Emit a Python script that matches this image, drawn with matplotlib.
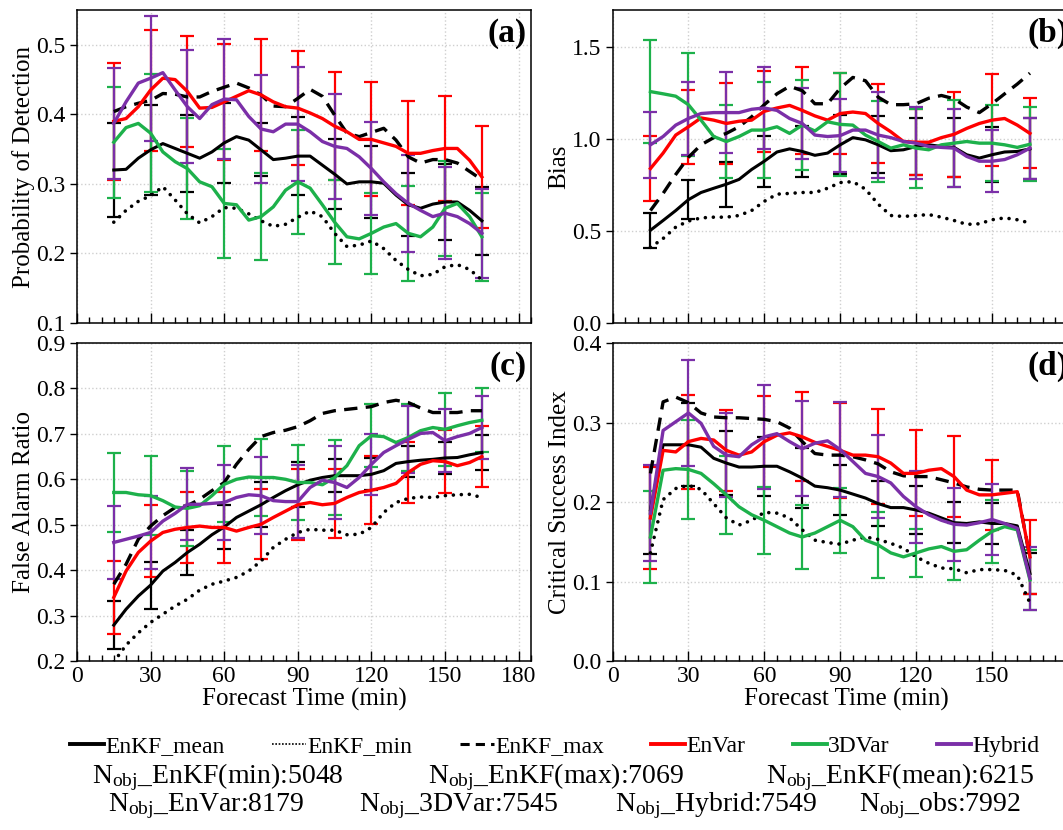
" verification scores vs forecast time, four panels "
import matplotlib
matplotlib.use("Agg")
import matplotlib.pyplot as plt
from matplotlib.ticker import MultipleLocator, FixedLocator
from matplotlib.lines import Line2D

plt.rcParams.update({'font.family': 'Liberation Serif',
                     'mathtext.fontset': 'custom',
                     'mathtext.rm': 'Liberation Serif',
                     'font.size': 17})

# forecast times of the curves and of the error bars (min)
time = list(range(15, 170, 5))
time_err = list(range(15, 170, 15))

# (a) probability of detection
mean_a = [0.320, 0.321, 0.337, 0.349, 0.358, 0.351, 0.344, 0.337, 0.346, 0.359, 0.368, 0.363, 0.349, 0.335, 0.337, 0.340,
          0.340, 0.327, 0.314, 0.300, 0.303, 0.303, 0.301, 0.284, 0.270, 0.265, 0.271, 0.274, 0.274, 0.262, 0.247]
min_a = [0.245, 0.262, 0.275, 0.283, 0.296, 0.277, 0.257, 0.244, 0.253, 0.266, 0.265, 0.257, 0.247, 0.239, 0.242, 0.252,
         0.261, 0.253, 0.229, 0.210, 0.212, 0.218, 0.207, 0.190, 0.177, 0.168, 0.170, 0.181, 0.184, 0.177, 0.162]
max_a = [0.404, 0.411, 0.416, 0.420, 0.430, 0.429, 0.425, 0.425, 0.433, 0.439, 0.445, 0.438, 0.428, 0.412, 0.411, 0.423,
         0.436, 0.426, 0.399, 0.373, 0.368, 0.374, 0.380, 0.363, 0.339, 0.330, 0.335, 0.335, 0.330, 0.318, 0.306]
envar_a = [0.390, 0.394, 0.411, 0.435, 0.452, 0.450, 0.433, 0.409, 0.410, 0.418, 0.426, 0.434, 0.428, 0.418, 0.411, 0.409,
           0.402, 0.394, 0.383, 0.375, 0.364, 0.364, 0.359, 0.354, 0.344, 0.344, 0.348, 0.351, 0.351, 0.334, 0.310]
var3d_a = [0.360, 0.381, 0.387, 0.373, 0.346, 0.332, 0.322, 0.303, 0.296, 0.272, 0.270, 0.248, 0.253, 0.267, 0.291, 0.303,
           0.294, 0.270, 0.245, 0.224, 0.221, 0.229, 0.238, 0.243, 0.229, 0.224, 0.238, 0.265, 0.272, 0.253, 0.224]
hybrid_a = [0.387, 0.418, 0.445, 0.452, 0.460, 0.435, 0.411, 0.394, 0.414, 0.422, 0.421, 0.397, 0.379, 0.375, 0.386, 0.386,
            0.375, 0.361, 0.354, 0.351, 0.339, 0.322, 0.303, 0.286, 0.272, 0.262, 0.253, 0.258, 0.253, 0.243, 0.229]
std_mean_a = [0.068, 0.065, 0.055, 0.057, 0.038, 0.056, 0.050, 0.052, 0.045, 0.055, 0.049]
std_envar_a = [0.084, 0.087, 0.080, 0.083, 0.081, 0.082, 0.078, 0.082, 0.075, 0.076, 0.073]
std_var3d_a = [0.080, 0.085, 0.073, 0.078, 0.062, 0.075, 0.060, 0.058, 0.068, 0.068, 0.063]
std_hybrid_a = [0.080, 0.090, 0.081, 0.086, 0.077, 0.082, 0.075, 0.067, 0.070, 0.066, 0.064]

# (b) bias
mean_b = [0.504, 0.557, 0.611, 0.670, 0.709, 0.732, 0.754, 0.780, 0.834, 0.879, 0.929, 0.946, 0.932, 0.911, 0.923, 0.968,
          1.007, 0.995, 0.968, 0.936, 0.941, 0.959, 0.968, 0.959, 0.954, 0.914, 0.896, 0.914, 0.929, 0.932, 0.946]
min_b = [0.411, 0.459, 0.521, 0.554, 0.571, 0.575, 0.575, 0.584, 0.611, 0.661, 0.700, 0.704, 0.709, 0.709, 0.732, 0.763,
         0.768, 0.727, 0.646, 0.584, 0.579, 0.584, 0.589, 0.575, 0.557, 0.536, 0.539, 0.561, 0.571, 0.561, 0.543]
max_b = [0.611, 0.704, 0.807, 0.900, 0.968, 1.007, 1.030, 1.066, 1.120, 1.186, 1.245, 1.286, 1.262, 1.191, 1.191, 1.275,
         1.334, 1.316, 1.227, 1.186, 1.186, 1.191, 1.221, 1.236, 1.218, 1.173, 1.143, 1.191, 1.245, 1.298, 1.357]
envar_b = [0.839, 0.923, 1.021, 1.066, 1.114, 1.102, 1.084, 1.096, 1.102, 1.150, 1.168, 1.182, 1.155, 1.125, 1.102, 1.138,
           1.146, 1.138, 1.084, 1.039, 0.986, 0.982, 0.982, 1.007, 1.025, 1.057, 1.084, 1.102, 1.111, 1.075, 1.030]
var3d_b = [1.257, 1.245, 1.232, 1.186, 1.102, 1.013, 0.986, 1.013, 1.048, 1.048, 1.066, 1.030, 1.075, 1.043, 1.093, 1.079,
           1.075, 1.021, 0.986, 0.950, 0.968, 0.950, 0.941, 0.968, 0.977, 0.986, 0.977, 0.977, 0.968, 0.954, 0.971]
hybrid_b = [0.968, 1.013, 1.075, 1.111, 1.138, 1.143, 1.143, 1.143, 1.161, 1.168, 1.155, 1.111, 1.084, 1.021, 1.013, 1.018,
            1.048, 1.048, 1.021, 1.007, 0.986, 0.977, 0.959, 0.954, 0.950, 0.905, 0.879, 0.879, 0.888, 0.914, 0.950]
std_mean_b = [0.095, 0.107, 0.122, 0.138, 0.140, 0.160, 0.155, 0.157, 0.160, 0.150, 0.165]
std_envar_b = [0.175, 0.200, 0.220, 0.220, 0.235, 0.218, 0.213, 0.180, 0.232, 0.250, 0.190]
std_var3d_b = [0.280, 0.278, 0.200, 0.260, 0.245, 0.280, 0.220, 0.215, 0.236, 0.208, 0.200]
std_hybrid_b = [0.180, 0.200, 0.220, 0.223, 0.195, 0.200, 0.232, 0.197, 0.210, 0.170, 0.165]

# (c) false alarm ratio
mean_c = [0.279, 0.314, 0.343, 0.367, 0.398, 0.417, 0.439, 0.457, 0.478, 0.495, 0.516, 0.530, 0.544, 0.560, 0.575, 0.588,
          0.598, 0.604, 0.608, 0.608, 0.608, 0.611, 0.619, 0.635, 0.639, 0.642, 0.644, 0.647, 0.648, 0.654, 0.659]
min_c = [0.198, 0.235, 0.262, 0.285, 0.303, 0.321, 0.336, 0.356, 0.369, 0.376, 0.384, 0.398, 0.420, 0.450, 0.468, 0.483,
         0.490, 0.488, 0.488, 0.478, 0.479, 0.494, 0.527, 0.549, 0.558, 0.561, 0.560, 0.564, 0.566, 0.567, 0.560]
max_c = [0.369, 0.413, 0.468, 0.497, 0.520, 0.538, 0.542, 0.556, 0.575, 0.593, 0.633, 0.666, 0.694, 0.703, 0.708, 0.716,
         0.729, 0.745, 0.751, 0.754, 0.757, 0.760, 0.769, 0.774, 0.769, 0.757, 0.747, 0.747, 0.747, 0.751, 0.751]
envar_c = [0.340, 0.398, 0.439, 0.464, 0.483, 0.490, 0.494, 0.497, 0.494, 0.494, 0.486, 0.494, 0.501, 0.516, 0.530, 0.544,
           0.549, 0.544, 0.547, 0.560, 0.571, 0.576, 0.582, 0.591, 0.615, 0.633, 0.641, 0.639, 0.630, 0.637, 0.650]
var3d_c = [0.571, 0.571, 0.566, 0.564, 0.553, 0.539, 0.536, 0.542, 0.564, 0.589, 0.600, 0.605, 0.604, 0.604, 0.600, 0.593,
           0.593, 0.588, 0.604, 0.630, 0.674, 0.696, 0.694, 0.681, 0.692, 0.707, 0.714, 0.710, 0.718, 0.725, 0.730]
hybrid_c = [0.461, 0.468, 0.475, 0.483, 0.508, 0.525, 0.545, 0.545, 0.547, 0.549, 0.560, 0.566, 0.564, 0.553, 0.551, 0.551,
            0.582, 0.598, 0.593, 0.582, 0.604, 0.633, 0.659, 0.674, 0.688, 0.701, 0.703, 0.685, 0.694, 0.701, 0.714]
std_mean_c = [0.053, 0.052, 0.050, 0.048, 0.050, 0.050, 0.037, 0.035, 0.034, 0.035, 0.038]
std_envar_c = [0.080, 0.080, 0.078, 0.078, 0.077, 0.078, 0.076, 0.075, 0.068, 0.069, 0.068]
std_var3d_c = [0.086, 0.087, 0.083, 0.084, 0.085, 0.083, 0.082, 0.069, 0.073, 0.080, 0.070]
std_hybrid_c = [0.080, 0.080, 0.079, 0.082, 0.085, 0.080, 0.080, 0.067, 0.074, 0.070, 0.070]

# (d) critical success index
mean_d = [0.190, 0.272, 0.272, 0.272, 0.269, 0.255, 0.249, 0.244, 0.244, 0.245, 0.245, 0.238, 0.230, 0.220, 0.218, 0.215,
          0.210, 0.205, 0.198, 0.193, 0.193, 0.190, 0.186, 0.180, 0.174, 0.173, 0.175, 0.173, 0.173, 0.170, 0.110]
min_d = [0.136, 0.203, 0.217, 0.221, 0.216, 0.198, 0.180, 0.171, 0.177, 0.187, 0.186, 0.180, 0.165, 0.152, 0.149, 0.147,
         0.152, 0.156, 0.153, 0.148, 0.142, 0.131, 0.123, 0.117, 0.116, 0.111, 0.115, 0.115, 0.114, 0.108, 0.073]
max_d = [0.236, 0.326, 0.332, 0.325, 0.312, 0.307, 0.306, 0.306, 0.305, 0.304, 0.301, 0.293, 0.276, 0.261, 0.259, 0.259,
         0.257, 0.253, 0.248, 0.238, 0.233, 0.232, 0.232, 0.228, 0.224, 0.219, 0.216, 0.215, 0.215, 0.215, 0.130]
envar_d = [0.180, 0.265, 0.263, 0.276, 0.280, 0.278, 0.265, 0.259, 0.263, 0.276, 0.284, 0.287, 0.282, 0.275, 0.270, 0.265,
           0.259, 0.259, 0.257, 0.249, 0.236, 0.236, 0.240, 0.242, 0.232, 0.215, 0.209, 0.209, 0.211, 0.213, 0.131]
var3d_d = [0.156, 0.240, 0.242, 0.241, 0.236, 0.223, 0.209, 0.194, 0.184, 0.177, 0.169, 0.161, 0.156, 0.161, 0.169, 0.177,
           0.169, 0.152, 0.146, 0.136, 0.131, 0.136, 0.141, 0.144, 0.138, 0.140, 0.152, 0.163, 0.169, 0.165, 0.102]
hybrid_d = [0.186, 0.290, 0.301, 0.312, 0.299, 0.270, 0.259, 0.257, 0.272, 0.282, 0.286, 0.276, 0.267, 0.274, 0.277, 0.266,
            0.251, 0.236, 0.232, 0.224, 0.207, 0.194, 0.184, 0.177, 0.172, 0.171, 0.174, 0.178, 0.173, 0.167, 0.104]
std_mean_d = [0.055, 0.052, 0.040, 0.037, 0.038, 0.031, 0.028, 0.030, 0.026, 0.026, 0.026]
std_envar_d = [0.064, 0.059, 0.051, 0.058, 0.056, 0.060, 0.060, 0.054, 0.051, 0.044, 0.047]
std_var3d_d = [0.058, 0.062, 0.049, 0.042, 0.040, 0.041, 0.041, 0.030, 0.036, 0.040, 0.038]
std_hybrid_d = [0.060, 0.067, 0.053, 0.065, 0.060, 0.060, 0.052, 0.045, 0.046, 0.045, 0.040]

n_obj_row1 = ["EnKF(min):5048", "EnKF(max):7069", "EnKF(mean):6215"]
n_obj_row2 = ["EnVar:8179", "3DVar:7545", "Hybrid:7549", "obs:7992"]

RED, GREEN, PURPLE = "#ff0000", "#1db14b", "#7b2fa8"

panels = [
    ("(a)", "Probability of Detection", (0.1, 0.55), 0.1,
     mean_a, min_a, max_a, envar_a, var3d_a, hybrid_a,
     std_mean_a, std_envar_a, std_var3d_a, std_hybrid_a),
    ("(b)", "Bias", (0.0, 1.7), 0.5,
     mean_b, min_b, max_b, envar_b, var3d_b, hybrid_b,
     std_mean_b, std_envar_b, std_var3d_b, std_hybrid_b),
    ("(c)", "False Alarm Ratio", (0.2, 0.9), 0.1,
     mean_c, min_c, max_c, envar_c, var3d_c, hybrid_c,
     std_mean_c, std_envar_c, std_var3d_c, std_hybrid_c),
    ("(d)", "Critical Success Index", (0.0, 0.4), 0.1,
     mean_d, min_d, max_d, envar_d, var3d_d, hybrid_d,
     std_mean_d, std_envar_d, std_var3d_d, std_hybrid_d),
]

# axes rectangles in figure fraction (right column runs past the edge)
rects = [(0.0724, 0.6108, 0.4271, 0.3771),
         (0.5762, 0.6108, 0.4403, 0.3771),
         (0.0724, 0.2036, 0.4271, 0.3831),
         (0.5762, 0.2036, 0.4403, 0.3831)]
tag_x = [0.99, 0.975, 0.99, 0.975]

fig = plt.figure(figsize=(10.63, 8.30), dpi=100)

idx_err = [time.index(t) for t in time_err]

for k, (tag, ylabel, ylim, ystep, mean, vmin, vmax, envar, var3d, hybrid,
        s_mean, s_envar, s_var3d, s_hybrid) in enumerate(panels):
    ax = fig.add_axes(rects[k])

    # error bars first, curves on top
    for ser, std, col in [(mean, s_mean, "k"), (envar, s_envar, RED),
                          (var3d, s_var3d, GREEN), (hybrid, s_hybrid, PURPLE)]:
        ax.errorbar(time_err, [ser[i] for i in idx_err], yerr=std, fmt="none",
                    ecolor=col, elinewidth=1.6, capsize=5, capthick=1.6, zorder=2)

    ax.plot(time, vmin, color="k", lw=2.6, ls=(0, (0.01, 2.2)),
            dash_capstyle="round", zorder=3)
    ax.plot(time, vmax, color="k", lw=2.4, ls=(0, (4, 2.5)), zorder=3)
    ax.plot(time, mean, color="k", lw=2.2, zorder=3)
    ax.plot(time, envar, color=RED, lw=2.4, zorder=3)
    ax.plot(time, var3d, color=GREEN, lw=2.4, zorder=3)
    ax.plot(time, hybrid, color=PURPLE, lw=2.4, zorder=3)

    ax.set_xlim(0, 185)
    ax.set_ylim(*ylim)
    if k % 2 == 0:
        ax.xaxis.set_major_locator(MultipleLocator(30))
    else:
        # the 180 label of the right column falls outside the picture
        ax.xaxis.set_major_locator(FixedLocator([0, 30, 60, 90, 120, 150]))
    ax.xaxis.set_minor_locator(MultipleLocator(5))
    ax.yaxis.set_major_locator(MultipleLocator(ystep))
    ax.yaxis.set_major_formatter(plt.FormatStrFormatter("%.1f"))
    ax.tick_params(axis="x", which="major", direction="in", length=7, width=1, top=False)
    ax.tick_params(axis="x", which="minor", direction="in", length=4, width=1, top=False)
    ax.tick_params(axis="y", which="major", direction="out", length=5, width=1, pad=3)
    ax.tick_params(labelsize=17)
    ax.grid(True, which="major", ls=":", color="#cfcfcf", lw=1)
    ax.set_axisbelow(True)
    for sp in ax.spines.values():
        sp.set_linewidth(1.1)

    ax.set_ylabel(ylabel, fontsize=18, labelpad=1)
    if k < 2:
        ax.tick_params(axis="x", labelbottom=False)
    else:
        ax.set_xlabel("Forecast Time (min)", fontsize=18, labelpad=1)
    ax.text(tag_x[k], 0.975, tag, transform=ax.transAxes, ha="right", va="top",
            fontsize=24, fontweight="bold")

handles = [Line2D([], [], color="k", lw=2.8),
           Line2D([], [], color="k", lw=1.2, ls=(0, (1, 1))),
           Line2D([], [], color="k", lw=2.2, ls=(0, (3, 2))),
           Line2D([], [], color=RED, lw=2.8),
           Line2D([], [], color=GREEN, lw=2.8),
           Line2D([], [], color=PURPLE, lw=2.8)]
labels = ["EnKF_mean", "EnKF_min", "EnKF_max", "EnVar", "3DVar", "Hybrid"]
fig.legend(handles, labels, loc="center left", bbox_to_anchor=(0.066, 0.101),
           ncol=6, frameon=False, fontsize=17, handlelength=1.45,
           handletextpad=0.05, columnspacing=2.0, borderaxespad=0, borderpad=0)

for txt, x in zip(n_obj_row1, [0.205, 0.523, 0.847]):
    fig.text(x, 0.064, r"$\mathrm{N_{obj}}$_" + txt, ha="center", va="center", fontsize=20)
for txt, x in zip(n_obj_row2, [0.194, 0.431, 0.674, 0.884]):
    fig.text(x, 0.029, r"$\mathrm{N_{obj}}$_" + txt, ha="center", va="center", fontsize=20)

fig.savefig("out.png", dpi=100)
